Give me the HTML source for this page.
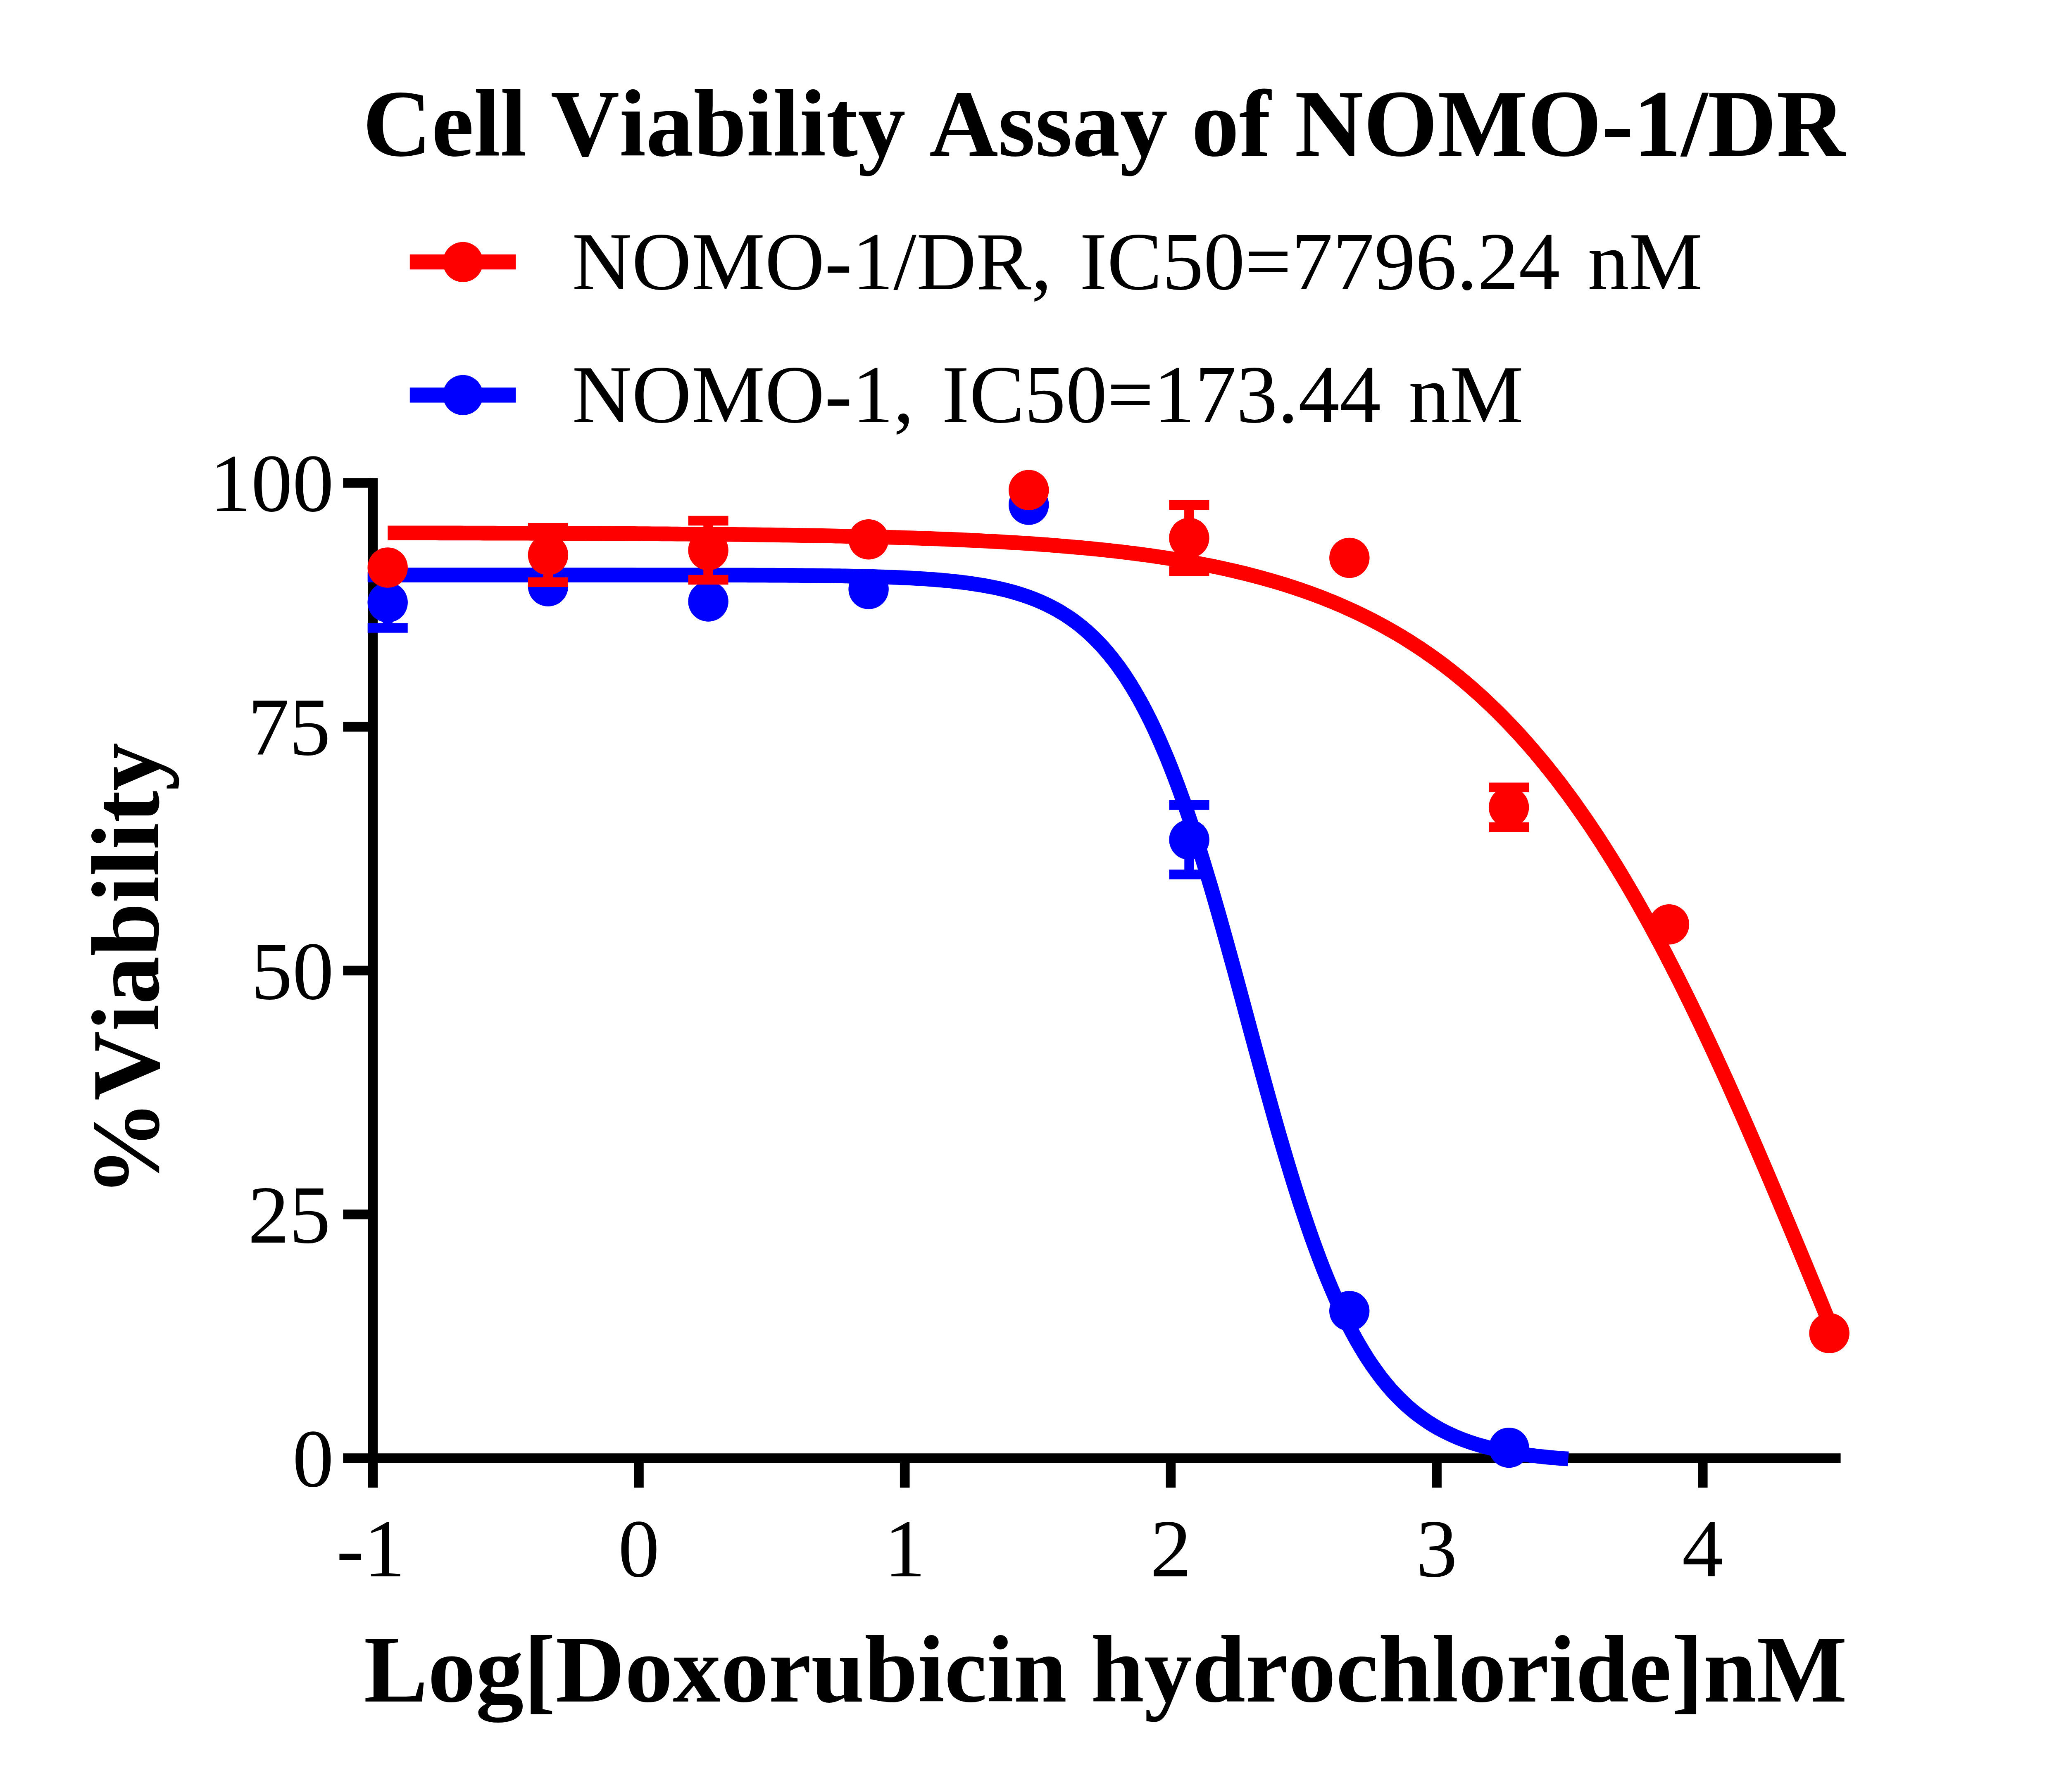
<!DOCTYPE html>
<html lang="en"><head><meta charset="utf-8"><title>Cell Viability Assay of NOMO-1/DR</title>
<style>
html,body{margin:0;padding:0;background:#fff;}
body{width:5014px;height:4338px;overflow:hidden;font-family:"Liberation Serif",serif;}
svg{display:block;}
text{font-family:"Liberation Serif",serif;fill:#000;font-kerning:none;font-variant-ligatures:none;}
.b{font-weight:bold;font-size:232px;}
.r{font-size:200px;}
.lg{font-size:200px;word-spacing:17px;}
</style></head><body>
<svg width="5014" height="4338" viewBox="0 0 5014 4338">
<rect width="5014" height="4338" fill="#fff"/>
<text class="b" style="font-size:230.7px" x="877.7" y="377">Cell Viability Assay of NOMO-1/DR</text>
<rect x="991.8" y="615.9" width="256.4" height="36.4" fill="#ff0000"/><circle cx="1120.4" cy="634.3" r="48.6" fill="#ff0000"/>
<rect x="991.8" y="938.2" width="256.4" height="36.4" fill="#0000ff"/><circle cx="1120.4" cy="956.3" r="48.6" fill="#0000ff"/>
<text class="lg" x="1384.6" y="700.3">NOMO-1/DR, IC50=7796.24 nM</text>
<text class="lg" x="1384.6" y="1022.3">NOMO-1, IC50=173.44 nM</text>
<g stroke="#000" stroke-width="23.6" fill="none">
<path d="M902.3 1157.2V3601.3"/>
<path d="M830.3 3530.0H4454.6"/>
<path d="M830.3 1169.0H902.3"/>
<path d="M830.3 1759.2H902.3"/>
<path d="M830.3 2349.5H902.3"/>
<path d="M830.3 2939.8H902.3"/>
<path d="M1546.0 3530.0V3601.3"/>
<path d="M2189.7 3530.0V3601.3"/>
<path d="M2833.4 3530.0V3601.3"/>
<path d="M3477.1 3530.0V3601.3"/>
<path d="M4120.8 3530.0V3601.3"/>
</g>
<text class="r" text-anchor="end" x="807.8" y="1237.0">100</text>
<text class="r" text-anchor="end" x="800" y="1827.2">75</text>
<text class="r" text-anchor="end" x="807.8" y="2417.5">50</text>
<text class="r" text-anchor="end" x="800" y="3007.8">25</text>
<text class="r" text-anchor="end" x="807.8" y="3598.0">0</text>
<text class="r" text-anchor="middle" x="897.3" y="3815.7">-1</text>
<text class="r" text-anchor="middle" x="1546.0" y="3815.7">0</text>
<text class="r" text-anchor="middle" x="2189.7" y="3815.7">1</text>
<text class="r" text-anchor="middle" x="2833.4" y="3815.7">2</text>
<text class="r" text-anchor="middle" x="3477.1" y="3815.7">3</text>
<text class="r" text-anchor="middle" x="4120.8" y="3815.7">4</text>
<text class="b" x="880.6" y="4118.7">Log[Doxorubicin hydrochloride]nM</text>
<text class="b" style="font-size:232.6px" transform="translate(383.2 2896.5) rotate(-90)">%Viability</text>
<polyline points="890.0,1391.9 899.7,1391.9 909.4,1391.9 919.2,1391.9 928.9,1391.9 938.6,1391.9 948.3,1391.9 958.0,1391.9 967.7,1391.9 977.5,1391.9 987.2,1391.9 996.9,1391.9 1006.6,1391.9 1016.3,1391.9 1026.0,1391.9 1035.8,1391.9 1045.5,1391.9 1055.2,1391.9 1064.9,1391.9 1074.6,1391.9 1084.3,1391.9 1094.1,1391.9 1103.8,1391.9 1113.5,1391.9 1123.2,1391.9 1132.9,1391.9 1142.7,1391.9 1152.4,1391.9 1162.1,1391.9 1171.8,1391.9 1181.5,1391.9 1191.2,1391.9 1201.0,1391.9 1210.7,1391.9 1220.4,1391.9 1230.1,1391.9 1239.8,1391.9 1249.5,1391.9 1259.3,1391.9 1269.0,1391.9 1278.7,1391.9 1288.4,1391.9 1298.1,1391.9 1307.8,1391.9 1317.6,1391.9 1327.3,1391.9 1337.0,1391.9 1346.7,1391.9 1356.4,1391.9 1366.2,1391.9 1375.9,1391.9 1385.6,1391.9 1395.3,1391.9 1405.0,1391.9 1414.7,1391.9 1424.5,1391.9 1434.2,1391.9 1443.9,1391.9 1453.6,1391.9 1463.3,1391.9 1473.0,1391.9 1482.8,1391.9 1492.5,1391.9 1502.2,1391.9 1511.9,1391.9 1521.6,1391.9 1531.3,1391.9 1541.1,1392.0 1550.8,1392.0 1560.5,1392.0 1570.2,1392.0 1579.9,1392.0 1589.7,1392.0 1599.4,1392.0 1609.1,1392.0 1618.8,1392.0 1628.5,1392.0 1638.2,1392.0 1648.0,1392.0 1657.7,1392.0 1667.4,1392.1 1677.1,1392.1 1686.8,1392.1 1696.5,1392.1 1706.3,1392.1 1716.0,1392.1 1725.7,1392.2 1735.4,1392.2 1745.1,1392.2 1754.8,1392.2 1764.6,1392.2 1774.3,1392.3 1784.0,1392.3 1793.7,1392.3 1803.4,1392.3 1813.2,1392.4 1822.9,1392.4 1832.6,1392.5 1842.3,1392.5 1852.0,1392.5 1861.7,1392.6 1871.5,1392.6 1881.2,1392.7 1890.9,1392.7 1900.6,1392.8 1910.3,1392.9 1920.0,1392.9 1929.8,1393.0 1939.5,1393.1 1949.2,1393.2 1958.9,1393.3 1968.6,1393.4 1978.3,1393.5 1988.1,1393.6 1997.8,1393.7 2007.5,1393.8 2017.2,1394.0 2026.9,1394.1 2036.7,1394.2 2046.4,1394.4 2056.1,1394.6 2065.8,1394.8 2075.5,1395.0 2085.2,1395.2 2095.0,1395.4 2104.7,1395.7 2114.4,1395.9 2124.1,1396.2 2133.8,1396.5 2143.5,1396.8 2153.3,1397.2 2163.0,1397.6 2172.7,1398.0 2182.4,1398.4 2192.1,1398.8 2201.8,1399.3 2211.6,1399.8 2221.3,1400.4 2231.0,1401.0 2240.7,1401.6 2250.4,1402.3 2260.2,1403.0 2269.9,1403.8 2279.6,1404.6 2289.3,1405.5 2299.0,1406.4 2308.7,1407.4 2318.5,1408.5 2328.2,1409.6 2337.9,1410.9 2347.6,1412.2 2357.3,1413.6 2367.0,1415.1 2376.8,1416.7 2386.5,1418.4 2396.2,1420.2 2405.9,1422.1 2415.6,1424.2 2425.3,1426.4 2435.1,1428.8 2444.8,1431.3 2454.5,1434.0 2464.2,1436.9 2473.9,1440.0 2483.7,1443.2 2493.4,1446.7 2503.1,1450.4 2512.8,1454.4 2522.5,1458.6 2532.2,1463.1 2542.0,1467.9 2551.7,1473.0 2561.4,1478.4 2571.1,1484.2 2580.8,1490.3 2590.5,1496.8 2600.3,1503.8 2610.0,1511.1 2619.7,1519.0 2629.4,1527.3 2639.1,1536.1 2648.8,1545.4 2658.6,1555.3 2668.3,1565.7 2678.0,1576.8 2687.7,1588.5 2697.4,1600.9 2707.2,1613.9 2716.9,1627.7 2726.6,1642.2 2736.3,1657.5 2746.0,1673.6 2755.7,1690.5 2765.5,1708.2 2775.2,1726.9 2784.9,1746.3 2794.6,1766.7 2804.3,1788.0 2814.0,1810.3 2823.8,1833.4 2833.5,1857.5 2843.2,1882.6 2852.9,1908.5 2862.6,1935.4 2872.3,1963.2 2882.1,1991.9 2891.8,2021.5 2901.5,2051.9 2911.2,2083.1 2920.9,2115.1 2930.7,2147.7 2940.4,2181.1 2950.1,2215.0 2959.8,2249.5 2969.5,2284.4 2979.2,2319.8 2989.0,2355.4 2998.7,2391.4 3008.4,2427.4 3018.1,2463.6 3027.8,2499.8 3037.5,2535.9 3047.3,2571.9 3057.0,2607.6 3066.7,2643.0 3076.4,2678.0 3086.1,2712.6 3095.8,2746.6 3105.6,2780.0 3115.3,2812.8 3125.0,2844.9 3134.7,2876.2 3144.4,2906.8 3154.2,2936.5 3163.9,2965.3 3173.6,2993.3 3183.3,3020.3 3193.0,3046.4 3202.7,3071.6 3212.5,3095.9 3222.2,3119.2 3231.9,3141.6 3241.6,3163.1 3251.3,3183.6 3261.0,3203.2 3270.8,3222.0 3280.5,3239.9 3290.2,3256.9 3299.9,3273.1 3309.6,3288.6 3319.3,3303.2 3329.1,3317.1 3338.8,3330.3 3348.5,3342.8 3358.2,3354.6 3367.9,3365.8 3377.7,3376.3 3387.4,3386.3 3397.1,3395.7 3406.8,3404.6 3416.5,3413.0 3426.2,3420.9 3436.0,3428.3 3445.7,3435.3 3455.4,3441.9 3465.1,3448.1 3474.8,3453.9 3484.5,3459.4 3494.3,3464.6 3504.0,3469.4 3513.7,3473.9 3523.4,3478.2 3533.1,3482.2 3542.8,3486.0 3552.6,3489.5 3562.3,3492.8 3572.0,3495.9 3581.7,3498.8 3591.4,3501.5 3601.2,3504.1 3610.9,3506.5 3620.6,3508.7 3630.3,3510.8 3640.0,3512.8 3649.7,3514.6 3659.5,3516.3 3669.2,3518.0 3678.9,3519.5 3688.6,3520.9 3698.3,3522.2 3708.0,3523.5 3717.8,3524.6 3727.5,3525.7 3737.2,3526.7 3746.9,3527.7 3756.6,3528.6 3766.3,3529.4 3776.1,3530.2 3785.8,3530.9 3795.5,3531.6" fill="none" stroke="#0000ff" stroke-width="35.6" stroke-linejoin="round"/>
<path d="M938.2 1396.6V1520.0M889.7 1396.6H986.7M889.7 1520.0H986.7" stroke="#0000ff" stroke-width="23.6" fill="none"/><path d="M2878.1 1948.7V2116.7M2829.6 1948.7H2926.6M2829.6 2116.7H2926.6" stroke="#0000ff" stroke-width="23.6" fill="none"/><circle cx="938.2" cy="1458.3" r="48.7" fill="#0000ff"/><circle cx="1326.4" cy="1419.3" r="48.7" fill="#0000ff"/><circle cx="1714.1" cy="1456.0" r="48.7" fill="#0000ff"/><circle cx="2102.1" cy="1426.0" r="48.7" fill="#0000ff"/><circle cx="2489.7" cy="1222.0" r="48.7" fill="#0000ff"/><circle cx="2878.1" cy="2032.7" r="48.7" fill="#0000ff"/><circle cx="3265.7" cy="3173.6" r="48.7" fill="#0000ff"/><circle cx="3651.9" cy="3504.6" r="48.7" fill="#0000ff"/>
<polyline points="938.3,1290.2 950.0,1290.2 961.6,1290.2 973.3,1290.2 985.0,1290.2 996.6,1290.2 1008.3,1290.3 1020.0,1290.3 1031.6,1290.3 1043.3,1290.3 1055.0,1290.3 1066.7,1290.4 1078.3,1290.4 1090.0,1290.4 1101.7,1290.4 1113.3,1290.4 1125.0,1290.5 1136.7,1290.5 1148.3,1290.5 1160.0,1290.5 1171.7,1290.6 1183.3,1290.6 1195.0,1290.6 1206.7,1290.7 1218.3,1290.7 1230.0,1290.7 1241.7,1290.7 1253.4,1290.8 1265.0,1290.8 1276.7,1290.8 1288.4,1290.9 1300.0,1290.9 1311.7,1291.0 1323.4,1291.0 1335.0,1291.0 1346.7,1291.1 1358.4,1291.1 1370.0,1291.2 1381.7,1291.2 1393.4,1291.2 1405.0,1291.3 1416.7,1291.3 1428.4,1291.4 1440.0,1291.4 1451.7,1291.5 1463.4,1291.6 1475.1,1291.6 1486.7,1291.7 1498.4,1291.7 1510.1,1291.8 1521.7,1291.9 1533.4,1291.9 1545.1,1292.0 1556.7,1292.1 1568.4,1292.1 1580.1,1292.2 1591.7,1292.3 1603.4,1292.4 1615.1,1292.4 1626.7,1292.5 1638.4,1292.6 1650.1,1292.7 1661.8,1292.8 1673.4,1292.9 1685.1,1293.0 1696.8,1293.1 1708.4,1293.2 1720.1,1293.3 1731.8,1293.4 1743.4,1293.5 1755.1,1293.6 1766.8,1293.8 1778.4,1293.9 1790.1,1294.0 1801.8,1294.1 1813.4,1294.3 1825.1,1294.4 1836.8,1294.6 1848.4,1294.7 1860.1,1294.9 1871.8,1295.0 1883.5,1295.2 1895.1,1295.4 1906.8,1295.5 1918.5,1295.7 1930.1,1295.9 1941.8,1296.1 1953.5,1296.3 1965.1,1296.5 1976.8,1296.7 1988.5,1296.9 2000.1,1297.1 2011.8,1297.3 2023.5,1297.6 2035.1,1297.8 2046.8,1298.1 2058.5,1298.3 2070.2,1298.6 2081.8,1298.9 2093.5,1299.1 2105.2,1299.4 2116.8,1299.7 2128.5,1300.0 2140.2,1300.3 2151.8,1300.7 2163.5,1301.0 2175.2,1301.3 2186.8,1301.7 2198.5,1302.1 2210.2,1302.4 2221.8,1302.8 2233.5,1303.2 2245.2,1303.6 2256.8,1304.1 2268.5,1304.5 2280.2,1304.9 2291.9,1305.4 2303.5,1305.9 2315.2,1306.4 2326.9,1306.9 2338.5,1307.4 2350.2,1307.9 2361.9,1308.5 2373.5,1309.1 2385.2,1309.7 2396.9,1310.3 2408.5,1310.9 2420.2,1311.5 2431.9,1312.2 2443.5,1312.9 2455.2,1313.6 2466.9,1314.3 2478.6,1315.1 2490.2,1315.8 2501.9,1316.6 2513.6,1317.4 2525.2,1318.3 2536.9,1319.1 2548.6,1320.0 2560.2,1321.0 2571.9,1321.9 2583.6,1322.9 2595.2,1323.9 2606.9,1324.9 2618.6,1326.0 2630.2,1327.1 2641.9,1328.2 2653.6,1329.4 2665.2,1330.6 2676.9,1331.8 2688.6,1333.1 2700.3,1334.4 2711.9,1335.7 2723.6,1337.1 2735.3,1338.6 2746.9,1340.0 2758.6,1341.6 2770.3,1343.1 2781.9,1344.7 2793.6,1346.4 2805.3,1348.1 2816.9,1349.8 2828.6,1351.6 2840.3,1353.5 2851.9,1355.4 2863.6,1357.4 2875.3,1359.4 2886.9,1361.5 2898.6,1363.7 2910.3,1365.9 2922.0,1368.2 2933.6,1370.5 2945.3,1372.9 2957.0,1375.4 2968.6,1378.0 2980.3,1380.6 2992.0,1383.3 3003.6,1386.1 3015.3,1388.9 3027.0,1391.9 3038.6,1394.9 3050.3,1398.1 3062.0,1401.3 3073.6,1404.6 3085.3,1408.0 3097.0,1411.5 3108.7,1415.1 3120.3,1418.8 3132.0,1422.6 3143.7,1426.5 3155.3,1430.5 3167.0,1434.6 3178.7,1438.9 3190.3,1443.2 3202.0,1447.7 3213.7,1452.4 3225.3,1457.1 3237.0,1462.0 3248.7,1467.0 3260.3,1472.2 3272.0,1477.5 3283.7,1482.9 3295.3,1488.5 3307.0,1494.2 3318.7,1500.1 3330.4,1506.2 3342.0,1512.4 3353.7,1518.8 3365.4,1525.4 3377.0,1532.1 3388.7,1539.0 3400.4,1546.1 3412.0,1553.4 3423.7,1560.9 3435.4,1568.5 3447.0,1576.4 3458.7,1584.5 3470.4,1592.8 3482.0,1601.2 3493.7,1609.9 3505.4,1618.9 3517.1,1628.0 3528.7,1637.4 3540.4,1647.0 3552.1,1656.9 3563.7,1667.0 3575.4,1677.3 3587.1,1687.9 3598.7,1698.7 3610.4,1709.8 3622.1,1721.2 3633.7,1732.8 3645.4,1744.7 3657.1,1756.9 3668.7,1769.3 3680.4,1782.1 3692.1,1795.1 3703.7,1808.4 3715.4,1822.0 3727.1,1835.9 3738.8,1850.1 3750.4,1864.6 3762.1,1879.4 3773.8,1894.5 3785.4,1910.0 3797.1,1925.7 3808.8,1941.8 3820.4,1958.2 3832.1,1974.9 3843.8,1991.9 3855.4,2009.2 3867.1,2026.9 3878.8,2044.9 3890.4,2063.2 3902.1,2081.9 3913.8,2100.9 3925.5,2120.2 3937.1,2139.8 3948.8,2159.8 3960.5,2180.1 3972.1,2200.7 3983.8,2221.6 3995.5,2242.9 4007.1,2264.5 4018.8,2286.3 4030.5,2308.5 4042.1,2331.1 4053.8,2353.9 4065.5,2377.0 4077.1,2400.4 4088.8,2424.1 4100.5,2448.1 4112.1,2472.3 4123.8,2496.9 4135.5,2521.7 4147.2,2546.7 4158.8,2572.1 4170.5,2597.6 4182.2,2623.4 4193.8,2649.4 4205.5,2675.7 4217.2,2702.1 4228.8,2728.7 4240.5,2755.6 4252.2,2782.6 4263.8,2809.8 4275.5,2837.1 4287.2,2864.6 4298.8,2892.2 4310.5,2920.0 4322.2,2947.8 4333.9,2975.8 4345.5,3003.8 4357.2,3031.9 4368.9,3060.1 4380.5,3088.3 4392.2,3116.6 4403.9,3144.9 4415.5,3173.2 4427.2,3201.5" fill="none" stroke="#ff0000" stroke-width="35.6" stroke-linejoin="round"/>
<path d="M1326.4 1277.8V1409.2M1277.9 1277.8H1374.9M1277.9 1409.2H1374.9" stroke="#ff0000" stroke-width="23.6" fill="none"/><path d="M1714.1 1260.5V1403.5M1665.6 1260.5H1762.6M1665.6 1403.5H1762.6" stroke="#ff0000" stroke-width="23.6" fill="none"/><path d="M2877.9 1222.3V1382.3M2829.4 1222.3H2926.4M2829.4 1382.3H2926.4" stroke="#ff0000" stroke-width="23.6" fill="none"/><path d="M3651.6 1906.3V2002.3M3603.1 1906.3H3700.1M3603.1 2002.3H3700.1" stroke="#ff0000" stroke-width="23.6" fill="none"/><circle cx="938.2" cy="1374.0" r="48.7" fill="#ff0000"/><circle cx="1326.4" cy="1343.5" r="48.7" fill="#ff0000"/><circle cx="1714.1" cy="1332.0" r="48.7" fill="#ff0000"/><circle cx="2102.1" cy="1305.8" r="48.7" fill="#ff0000"/><circle cx="2489.7" cy="1186.2" r="48.7" fill="#ff0000"/><circle cx="2877.9" cy="1302.3" r="48.7" fill="#ff0000"/><circle cx="3265.8" cy="1350.4" r="48.7" fill="#ff0000"/><circle cx="3651.6" cy="1954.3" r="48.7" fill="#ff0000"/><circle cx="4039.4" cy="2237.7" r="48.7" fill="#ff0000"/><circle cx="4427.2" cy="3227.3" r="48.7" fill="#ff0000"/>
</svg></body></html>
